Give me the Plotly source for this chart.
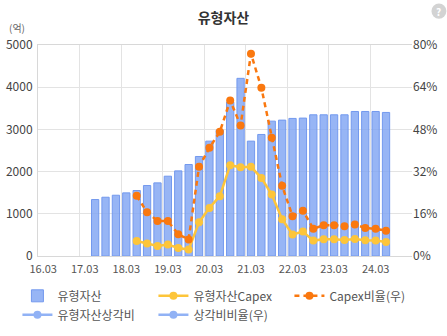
import plotly.graph_objects as go

categories = ["16.03", "16.06", "16.09", "16.12", "17.03", "17.06", "17.09", "17.12",
              "18.03", "18.06", "18.09", "18.12", "19.03", "19.06", "19.09", "19.12",
              "20.03", "20.06", "20.09", "20.12", "21.03", "21.06", "21.09", "21.12",
              "22.03", "22.06", "22.09", "22.12", "23.03", "23.06", "23.09", "23.12",
              "24.03", "24.06", "24.09", "24.12"]

tick_labels = ["16.03", "17.03", "18.03", "19.03", "20.03", "21.03", "22.03", "23.03", "24.03"]

# 유형자산 (억)
tangible_assets = [None, None, None, None, None,
                   1338, 1393, 1440, 1496, 1552, 1670, 1733, 1891, 2017, 2168, 2358,
                   2722, 2983, 3647, 4210, 2722, 2880, 3196, 3220, 3260, 3268,
                   3346, 3346, 3346, 3346, 3425, 3425, 3425, 3402, None, None]

# 유형자산Capex (억)
capex = [None] * 9 + [356, 294, 237, 270, 190, 152, 800, 1140, 1417, 2152, 2105, 2112,
                      1851, 1457, 871, 508, 579, 365, 396, 396, 380, 404, 373, 365, 332,
                      None, None]

# Capex비율(우) (%)
capex_ratio = [None] * 9 + [22.8, 16.6, 13.3, 13.3, 8.2, 6.3, 33.8, 41.0, 47.1, 59.0, 49.5,
                            76.7, 63.8, 44.8, 26.6, 15.1, 17.2, 10.3, 11.7, 11.7, 11.3,
                            11.9, 10.6, 10.3, 9.6, None, None]

# 유형자산상각비, 상각비비율(우): no visible data
depreciation = [None] * len(categories)
depreciation_ratio = [None] * len(categories)

# numeric positions derived from the category list
xpos = list(range(len(categories)))
tick_pos = [categories.index(t) for t in tick_labels]
grid_pos = [p - 0.5 for p in tick_pos] + [len(categories) - 0.5]

FONT = "Noto Sans CJK KR"
BAR_FILL = "rgba(125,163,242,0.8)"
BAR_LINE = "rgb(115,153,238)"
YELLOW = "rgb(253,197,58)"
ORANGE = "rgb(250,120,15)"
BLUE = "rgb(145,178,245)"
GRID = "#e3e3e3"

fig = go.Figure()
fig.add_trace(go.Bar(x=xpos, y=tangible_assets, name="유형자산",
                     marker=dict(color=BAR_FILL, line=dict(color=BAR_LINE, width=1))))
fig.add_trace(go.Scatter(x=xpos, y=capex, name="유형자산Capex", mode="lines+markers",
                         line=dict(color=YELLOW, width=2.5),
                         marker=dict(color=YELLOW, size=8)))
fig.add_trace(go.Scatter(x=xpos, y=capex_ratio, name="Capex비율(우)", mode="lines+markers",
                         yaxis="y2", line=dict(color=ORANGE, width=2.5, dash="5px,4px"),
                         marker=dict(color=ORANGE, size=8)))
fig.add_trace(go.Scatter(x=xpos, y=depreciation, name="유형자산상각비", mode="lines+markers",
                         line=dict(color=BLUE, width=2.5), marker=dict(color=BLUE, size=8)))
fig.add_trace(go.Scatter(x=xpos, y=depreciation_ratio, name="상각비비율(우)",
                         mode="lines+markers", yaxis="y2",
                         line=dict(color=BLUE, width=2.5), marker=dict(color=BLUE, size=8)))

fig.update_layout(
    width=447, height=336,
    margin=dict(l=38, r=35, t=45, b=80, autoexpand=False),
    paper_bgcolor="white", plot_bgcolor="white",
    font=dict(family=FONT, size=11, color="#555"),
    title=dict(text="<b>유형자산</b>", x=0.5, xanchor="center", y=0.945, yanchor="middle",
               font=dict(family=FONT, size=14, color="#333")),
    bargap=0.3,
    showlegend=True,
    legend=dict(orientation="h", x=-0.055, xanchor="left", y=-0.12, yanchor="top",
                entrywidth=91, entrywidthmode="pixels", itemwidth=30,
                font=dict(family=FONT, size=12, color="#555"),
                traceorder="normal", tracegroupgap=0),
    xaxis=dict(range=[-0.5, len(categories) - 0.5],
               tickmode="array", tickvals=tick_pos, ticktext=tick_labels,
               ticks="", showgrid=False, zeroline=False, ticklabelstandoff=3,
               minor=dict(tickmode="array", tickvals=grid_pos, showgrid=True,
                          gridcolor=GRID, gridwidth=1, ticks=""),
               showline=True, linecolor="#d8d8d8", mirror=True,
               tickfont=dict(size=11, color="#555")),
    yaxis=dict(range=[0, 5000], dtick=1000, showgrid=True, gridcolor=GRID,
               showline=True, linecolor="#d8d8d8", zeroline=False, ticklabelstandoff=2,
               tickfont=dict(size=12, color="#444"), ticks=""),
    yaxis2=dict(range=[0, 80], dtick=16, ticksuffix="%", overlaying="y", side="right",
                showgrid=False, zeroline=False, showline=False,
                tickfont=dict(size=12, color="#444"), ticks=""),
    shapes=[
        dict(type="circle", xref="paper", yref="paper", x0=1.052, x1=1.092,
             y0=1.125, y1=1.197, fillcolor="#d3d3d3", line=dict(width=0), layer="above"),
    ],
    annotations=[
        dict(text="(억)", xref="paper", yref="paper", x=-0.082, y=1.085, xanchor="left",
             yanchor="middle", showarrow=False, font=dict(family=FONT, size=10, color="#666")),
        dict(text="<b>?</b>", xref="paper", yref="paper", x=1.072, y=1.161, xanchor="center",
             yanchor="middle", showarrow=False,
             font=dict(family=FONT, size=10, color="white")),
    ],
)

fig.write_html("out.html")
